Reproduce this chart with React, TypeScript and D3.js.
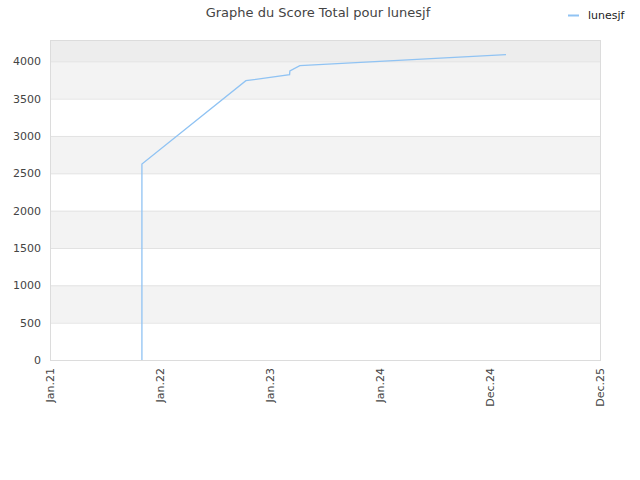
import * as d3 from "d3";

const W = 640, H = 480;
const M = { left: 50, right: 40, top: 40, bottom: 120 };

const dates = [
  "2021-11-02", "2021-11-02", "2022-10-13", "2023-03-07",
  "2023-03-08", "2023-04-10", "2025-02-22",
];
const scores = [0, 2625, 3740, 3822, 3870, 3941, 4088];

const yTicks = [0, 500, 1000, 1500, 2000, 2500, 3000, 3500, 4000];
const xTickDays = [0, 365, 730, 1095, 1460, 1825];

const LINE = "#90c3f3";

export default function App() {
  const start = new Date(Date.UTC(2021, 0, 1));
  const end = d3.utcDay.offset(start, 1825);
  const x = d3.scaleUtc([start, end], [M.left, W - M.right]);
  const y = d3.scaleLinear([0, 4285], [H - M.bottom, M.top]);
  const fmt = d3.utcFormat("%b.%y");

  const pts = dates.map((d, i) => [x(new Date(d + "T00:00:00Z")), y(scores[i])] as [number, number]);
  const line = d3.line();

  const x0 = M.left, x1 = W - M.right;
  const bands = [];
  for (let i = 0; i < yTicks.length; i++) {
    const lo = yTicks[i];
    const hi = i + 1 < yTicks.length ? yTicks[i + 1] : y.domain()[1];
    let fill = i % 2 === 1 ? "#f3f3f3" : "#ffffff";
    if (i === yTicks.length - 1) fill = "#ededed";
    bands.push({ lo, hi, fill });
  }

  return (
    <svg width={W} height={H} style={{ position: "absolute", left: 0, top: 0, background: "#fff",
      fontFamily: "DejaVu Sans, sans-serif" }}>
      {bands.map((b, i) => (
        <rect key={i} x={x0} y={y(b.hi)} width={x1 - x0} height={y(b.lo) - y(b.hi)} fill={b.fill} />
      ))}
      {yTicks.map((t) => (
        <g key={t}>
          <line x1={x0} x2={x1} y1={y(t) + 0.5} y2={y(t) + 0.5} stroke="#e2e2e2" />
          <text x={x0 - 9} y={y(t) + 4} textAnchor="end" fontSize={11} fill="#444">{t}</text>
        </g>
      ))}
      <rect x={x0 + 0.5} y={M.top + 0.5} width={x1 - x0} height={y(0) - M.top} fill="none" stroke="#dcdcdc" />
      {xTickDays.map((d) => {
        const dt = d3.utcDay.offset(start, d);
        const px = x(dt);
        return (
          <text key={d} transform={`translate(${px + 4},${y(0) + 8}) rotate(-90)`} textAnchor="end"
            fontSize={11} fill="#444">{fmt(dt)}</text>
        );
      })}
      <path d={line(pts) ?? ""} fill="none" stroke={LINE} strokeWidth={1.3} />
      <text x={318} y={17} textAnchor="middle" fontSize={13} fill="#444">Graphe du Score Total pour lunesjf</text>
      <line x1={568} x2={579} y1={15.5} y2={15.5} stroke={LINE} strokeWidth={2} />
      <text x={588} y={19} fontSize={11} fill="#222">lunesjf</text>
    </svg>
  );
}
